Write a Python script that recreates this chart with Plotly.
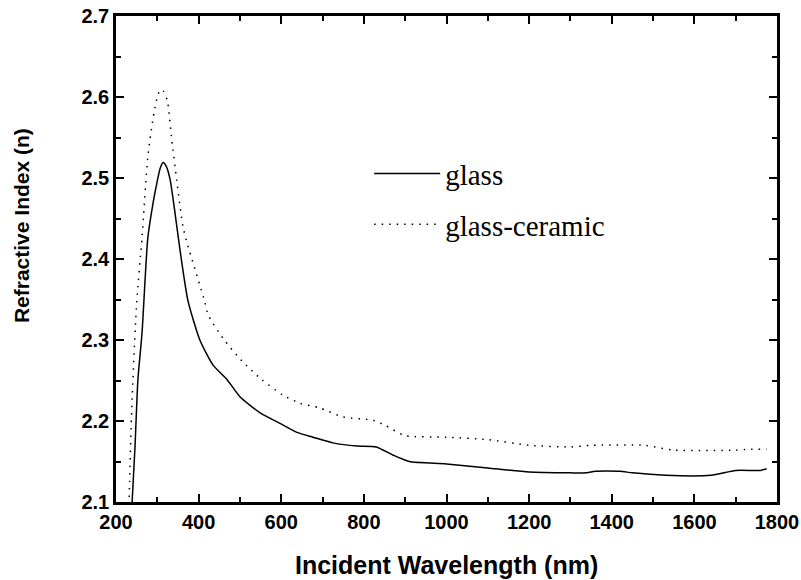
import plotly.graph_objects as go

# glass (solid)
glass_x = [239, 246, 253, 263, 277, 290, 299, 307, 314, 322, 331, 342, 355, 374, 403, 435, 469,
           500, 549, 597, 638, 677, 725, 783, 830, 870, 910, 1000, 1100, 1200, 1300, 1340, 1360,
           1420, 1450, 1530, 1640, 1700, 1760, 1775]
glass_n = [2.100, 2.168, 2.251, 2.309, 2.426, 2.470, 2.494, 2.512, 2.519, 2.514, 2.498, 2.460,
           2.411, 2.349, 2.300, 2.269, 2.251, 2.230, 2.210, 2.197, 2.186, 2.180, 2.173, 2.169,
           2.168, 2.158, 2.150, 2.147, 2.142, 2.137, 2.136, 2.136, 2.138, 2.138, 2.136, 2.133,
           2.133, 2.139, 2.139, 2.141]

# glass-ceramic (dotted)
gc_x = [232, 238, 250, 263, 277, 292, 300, 307, 315, 324, 335, 347, 362, 372, 415, 423, 459,
        505, 553, 604, 645, 694, 749, 822, 850, 900, 1000, 1100, 1200, 1300, 1350, 1480, 1550,
        1700, 1730, 1775]
gc_n = [2.106, 2.214, 2.346, 2.426, 2.526, 2.581, 2.600, 2.609, 2.607, 2.596, 2.547, 2.497,
        2.440, 2.420, 2.347, 2.331, 2.302, 2.274, 2.251, 2.232, 2.222, 2.216, 2.205, 2.201,
        2.195, 2.182, 2.180, 2.177, 2.170, 2.168, 2.170, 2.170, 2.164, 2.164, 2.165, 2.165]

x_title = 'Incident Wavelength (nm)'
y_title = 'Refractive Index (n)'

fig = go.Figure()
fig.add_trace(go.Scatter(x=glass_x, y=glass_n, mode='lines', name='glass', legendgroup='a',
                         line=dict(color='black', width=1.5, shape='spline', smoothing=0.6)))
fig.add_trace(go.Scatter(x=gc_x, y=gc_n, mode='lines', name='glass-ceramic', legendgroup='b',
                         line=dict(color='black', width=1.5, dash='1.5px,6px',
                                   shape='spline', smoothing=0.6)))

axis_style = dict(showline=True, linecolor='black', linewidth=2.5, mirror='ticks',
                  ticks='inside', ticklen=8, tickwidth=2, tickcolor='black',
                  showgrid=False, zeroline=False, automargin=False,
                  tickfont=dict(family='Liberation Sans', size=20, color='black', weight='bold'))

fig.update_xaxes(range=[200, 1800], dtick=200, tick0=200,
                 minor=dict(dtick=100, ticks='inside', ticklen=5, tickwidth=2, tickcolor='black'),
                 **axis_style)
fig.update_yaxes(range=[2.1, 2.7], dtick=0.1, tick0=2.1, tickformat='.1f',
                 minor=dict(dtick=0.05, ticks='inside', ticklen=5, tickwidth=2, tickcolor='black'),
                 **axis_style)

# axis titles as annotations (the y one sits above centre in the original)
fig.add_annotation(text=x_title, xref='paper', yref='paper', x=0.5, y=-0.13,
                   xanchor='center', yanchor='middle', showarrow=False,
                   font=dict(family='Liberation Sans', size=25, color='black', weight='bold'))
fig.add_annotation(text=y_title, xref='paper', yref='paper', x=-0.142, y=0.568,
                   xanchor='center', yanchor='middle', showarrow=False, textangle=-90,
                   font=dict(family='Liberation Sans', size=21, color='black', weight='bold'))

fig.update_layout(width=801, height=580, plot_bgcolor='white', paper_bgcolor='white',
                  margin=dict(l=116, r=24, t=16, b=78),
                  legend=dict(x=0.383, y=0.728, xanchor='left', yanchor='top',
                              bgcolor='rgba(0,0,0,0)', tracegroupgap=10, itemwidth=66,
                              font=dict(family='Liberation Serif', size=29, color='black')))

fig.write_html("out.html", config={'displayModeBar': False},
               post_script="document.body.style.margin='0';")
